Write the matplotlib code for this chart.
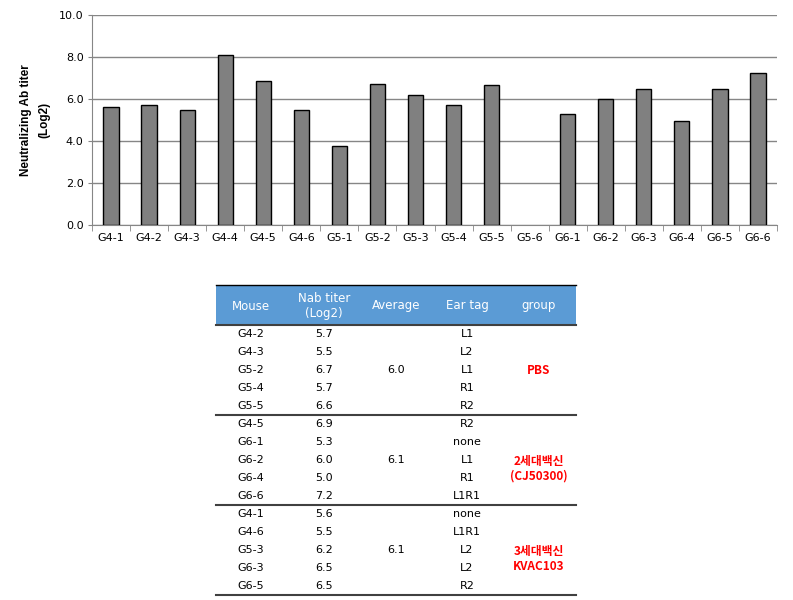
import numpy as np
import matplotlib.pyplot as plt

# 막대 그래프 데이터
mice = ['G4-1', 'G4-2', 'G4-3', 'G4-4', 'G4-5', 'G4-6',
        'G5-1', 'G5-2', 'G5-3', 'G5-4', 'G5-5', 'G5-6',
        'G6-1', 'G6-2', 'G6-3', 'G6-4', 'G6-5', 'G6-6']
titer = [5.6, 5.7, 5.5, 8.1, 6.85, 5.5,
         3.75, 6.7, 6.2, 5.7, 6.65, 0.0,
         5.3, 6.0, 6.5, 4.95, 6.5, 7.25]

# 표 데이터
headers = ['Mouse', 'Nab titer\n(Log2)', 'Average', 'Ear tag', 'group']
tbl_mouse = ['G4-2', 'G4-3', 'G5-2', 'G5-4', 'G5-5',
             'G4-5', 'G6-1', 'G6-2', 'G6-4', 'G6-6',
             'G4-1', 'G4-6', 'G5-3', 'G6-3', 'G6-5']
tbl_titer = ['5.7', '5.5', '6.7', '5.7', '6.6',
             '6.9', '5.3', '6.0', '5.0', '7.2',
             '5.6', '5.5', '6.2', '6.5', '6.5']
tbl_tag = ['L1', 'L2', 'L1', 'R1', 'R2',
           'R2', 'none', 'L1', 'R1', 'L1R1',
           'none', 'L1R1', 'L2', 'L2', 'R2']
group_avg = ['6.0', '6.1', '6.1']
group_name = ['PBS', '2세대백신\n(CJ50300)', '3세대백신\nKVAC103']

fig = plt.figure(figsize=(7.93, 6.0), dpi=100)

# --- 막대 그래프 ---
ax = fig.add_axes([92/793, 1-225/600, 685/793, 210/600])
x = np.arange(len(mice))
edges = ['black' if v > 0 else 'none' for v in titer]
ax.bar(x, titer, width=0.4, color='#808080', edgecolor=edges, linewidth=1, zorder=3)
ax.set_xlim(-0.5, len(mice)-0.5)
ax.set_ylim(0, 10)
ax.set_yticks(np.arange(0, 10.1, 2))
ax.set_yticklabels(['%.1f' % v for v in np.arange(0, 10.1, 2)], fontsize=8)
ax.set_xticks(x)
ax.set_xticklabels(mice, fontsize=8)
ax.set_xticks(np.arange(-0.5, len(mice)), minor=True)
ax.tick_params(axis='x', which='major', length=0, pad=6)
ax.tick_params(axis='x', which='minor', length=4, color='#868686')
ax.tick_params(axis='y', length=3, color='#868686', pad=3)
ax.grid(axis='y', color='#868686', linewidth=1, zorder=0)
for s in ['top', 'right']:
    ax.spines[s].set_visible(False)
ax.spines['left'].set_color('#868686')
ax.spines['bottom'].set_color('#868686')
ax.set_ylabel('Neutralizing Ab titer\n(Log2)', fontsize=8.5, fontweight='bold',
              family=['Liberation Sans', 'DejaVu Sans'], labelpad=6, linespacing=1.7)

# --- 표 ---
tx = fig.add_axes([0, 0, 1, 1])
tx.set_xlim(0, 793)
tx.set_ylim(600, 0)
tx.axis('off')

x0, x1 = 216, 576
col_x = [251, 324, 396, 467, 539]
tx.fill_between([x0, x1], 285, 324, color='#5B9BD5', lw=0)
tx.plot([x0, x1], [285, 285], color='black', lw=1)
tx.plot([x0, x1], [324.5, 324.5], color='#404040', lw=1.5)
for cx, h in zip(col_x, headers):
    tx.text(cx, 306, h, ha='center', va='center', color='white',
            fontsize=8.5, linespacing=1.2)

row_y0, row_h = 334, 18
for i in range(len(tbl_mouse)):
    y = row_y0 + i*row_h
    tx.text(col_x[0], y, tbl_mouse[i], ha='center', va='center', fontsize=8)
    tx.text(col_x[1], y, tbl_titer[i], ha='center', va='center', fontsize=8)
    tx.text(col_x[3], y, tbl_tag[i], ha='center', va='center', fontsize=8)

for g in range(3):
    ymid = row_y0 + (g*5 + 2)*row_h
    tx.text(col_x[2], ymid, group_avg[g], ha='center', va='center', fontsize=8)
    tx.text(col_x[4], ymid + (0 if g == 0 else 9), group_name[g], ha='center', va='center',
            fontsize=8.5, color='#FF0000', fontweight='bold', linespacing=1.1,
            family=['Noto Sans CJK KR', 'DejaVu Sans'])
    ysep = row_y0 + (g*5 + 4.5)*row_h
    tx.plot([x0, x1], [ysep, ysep], color='#404040', lw=1.5)

fig.savefig('out.png', dpi=100)
